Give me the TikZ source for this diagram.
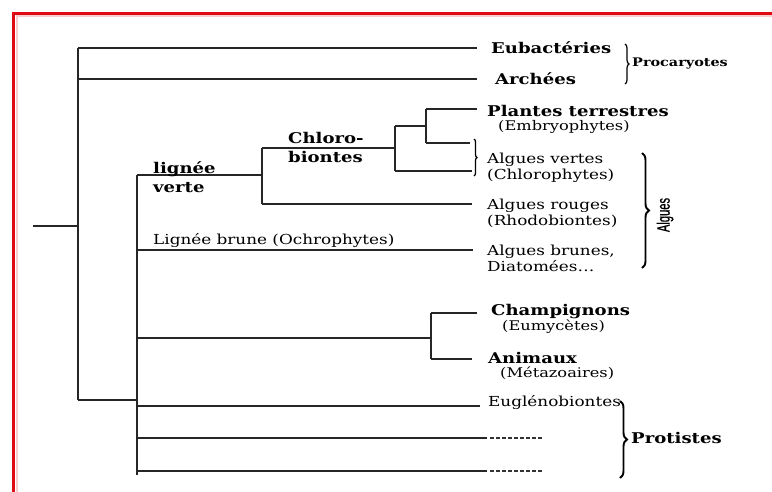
\documentclass[tikz,border=0pt]{standalone}
\usepackage{fontspec}
\setmainfont[FakeStretch=1.22]{DejaVu Serif}
\newfontfamily\narrowsans[FakeStretch=0.62,FakeBold=0.6]{Liberation Sans}
\usetikzlibrary{decorations.pathreplacing}

\begin{document}
\begin{tikzpicture}[x=1pt,y=-1pt,
  branch/.style={line width=1.5pt, draw=black!85},
  dotsline/.style={line width=1.1pt, draw=black!80, dash pattern=on 4pt off 2pt},
  taxon/.style={font=\bfseries\fontsize{14.8}{19}\selectfont, anchor=west, inner sep=0pt, align=left},
  note/.style={font=\fontsize{13.8}{16}\selectfont, anchor=west, inner sep=0pt, align=left},
  subnote/.style={font=\fontsize{13.3}{16}\selectfont, anchor=west, inner sep=0pt},
  group/.style={font=\bfseries\fontsize{11.8}{14}\selectfont, anchor=west, inner sep=0pt},
  bigbrace/.style={decorate, decoration={brace, amplitude=#1}, line width=1.9pt, draw=black},
  frame/.style={draw={rgb,255:red,222;green,12;blue,18}, line width=3.2pt},
  haze/.style={draw={rgb,255:red,250;green,205;blue,205}, line width=2pt}]

\useasboundingbox (0,0) rectangle (772,492);
\fill[white] (0,0) rectangle (772,492);

% red frame on the top and left edges
\draw[haze] (16,16.5) -- (772,16.5);
\draw[haze] (16.5,16) -- (16.5,492);
\draw[frame] (12,13.2) -- (772,13.2);
\draw[frame] (13.2,12) -- (13.2,492);

% ---------- junctions and branch ends ----------
\coordinate (root)   at (33,226);
\coordinate (n0)     at (78,226);
\coordinate (n0top)  at (78,48);
\coordinate (n0bot)  at (78,400);
\coordinate (eubEnd) at (477,48);
\coordinate (archEnd) at (477,79);

\coordinate (euk)    at (137,400);
\coordinate (eukTop) at (137,175);
\coordinate (eukBot) at (137,475);
\coordinate (brunL)  at (137,250);
\coordinate (opiL)   at (137,338);
\coordinate (eugL)   at (137,406);
\coordinate (p2L)    at (137,438);
\coordinate (p3L)    at (137,471);

\coordinate (chl)    at (262,175);
\coordinate (chlTop) at (262,148);
\coordinate (chlBot) at (262,204);
\coordinate (cl2)    at (395,148);
\coordinate (cl2Top) at (395,126);
\coordinate (cl2Bot) at (395,171);
\coordinate (cl3)    at (426,126);
\coordinate (cl3Top) at (426,109);
\coordinate (cl3Bot) at (426,143);

\coordinate (plEnd)    at (477,109);
\coordinate (vert2End) at (470,143);
\coordinate (vertEnd)  at (472,171);
\coordinate (rougeEnd) at (472,204);
\coordinate (brunEnd)  at (473,250);

\coordinate (opi)    at (431,338);
\coordinate (opiTop) at (431,313);
\coordinate (opiBot) at (431,359);
\coordinate (chEnd)  at (477,313);
\coordinate (anEnd)  at (472,359);

\coordinate (eugEnd) at (480,406);
\coordinate (p2End)  at (487,438);
\coordinate (p2Dots) at (543,438);
\coordinate (p3End)  at (487,471);
\coordinate (p3Dots) at (543,471);

% ---------- branches ----------
\draw[branch] (root) -- (n0);
\draw[branch] (n0top) -- (n0bot);
\draw[branch] (n0top) -- (eubEnd);
\draw[branch] (n0top |- archEnd) -- (archEnd);
\draw[branch] (n0bot) -- (euk);

\draw[branch] (eukTop) -- (eukBot);
\draw[branch] (eukTop) -- (chl);
\draw[branch] (brunL) -- (brunEnd);
\draw[branch] (opiL) -- (opi);
\draw[branch] (eugL) -- (eugEnd);
\draw[branch] (p2L) -- (p2End);
\draw[branch] (p3L) -- (p3End);
\draw[dotsline] ([xshift=3pt]p2End) -- (p2Dots);
\draw[dotsline] ([xshift=3pt]p3End) -- (p3Dots);

\draw[branch] (chlTop) -- (chlBot);
\draw[branch] (chlTop) -- (cl2);
\draw[branch] (chlBot) -- (rougeEnd);
\draw[branch] (cl2Top) -- (cl2Bot);
\draw[branch] (cl2Top) -- (cl3);
\draw[branch] (cl2Bot) -- (vertEnd);
\draw[branch] (cl3Top) -- (cl3Bot);
\draw[branch] (cl3Top) -- (plEnd);
\draw[branch] (cl3Bot) -- (vert2End);

\draw[branch] (opiTop) -- (opiBot);
\draw[branch] (opiTop) -- (chEnd);
\draw[branch] (opiBot) -- (anEnd);

% ---------- labels ----------
\node[taxon] (eub)  at (491,48) {Eubactéries};
\node[taxon] (arch) at (495,79) {Archées};
\node[group] (proc) at (632,64) {Procaryotes};

\node[taxon] (plantes) at (487,111) {Plantes terrestres};
\node[subnote] (embryo) at (498,127) {(Embryophytes)};
\node[note] (vertes) at (487,168) {Algues vertes\\(Chlorophytes)};
\node[note] (rouges) at (487,213) {Algues rouges\\(Rhodobiontes)};
\node[note] (brunes) at (487,258) {Algues brunes,\\Diatomées\ldots};
\node[rotate=90, inner sep=0pt, font=\narrowsans\fontsize{18}{18}\selectfont] (algues) at (665,215) {Algues};

\node[taxon] (lverte) at (153,177) {lignée\\verte};
\node[taxon] (chloro) at (288,147) {Chloro-\\biontes};
\node[note] (lbrune) at (153,241) {Lignée brune (Ochrophytes)};

\node[taxon] (champ) at (491,312) {Champignons};
\node[subnote] (eumy) at (502,327) {(Eumycètes)};
\node[taxon] (anim) at (488,358) {Animaux};
\node[subnote] (meta) at (500,373) {(Métazoaires)};

\node[note] (eugl) at (488,403) {Euglénobiontes};
\node[taxon] (prot) at (631,438) {Protistes};

% ---------- braces ----------
\draw[bigbrace=4pt, line width=1.2pt] (625,44) -- (625,84);
\draw[bigbrace=3pt, line width=1.3pt] (474,139) -- (474,176);
\draw[bigbrace=7pt] (642,153) -- (642,268);
\draw[bigbrace=7pt] (620,401) -- (620,478);

\end{tikzpicture}
\end{document}
